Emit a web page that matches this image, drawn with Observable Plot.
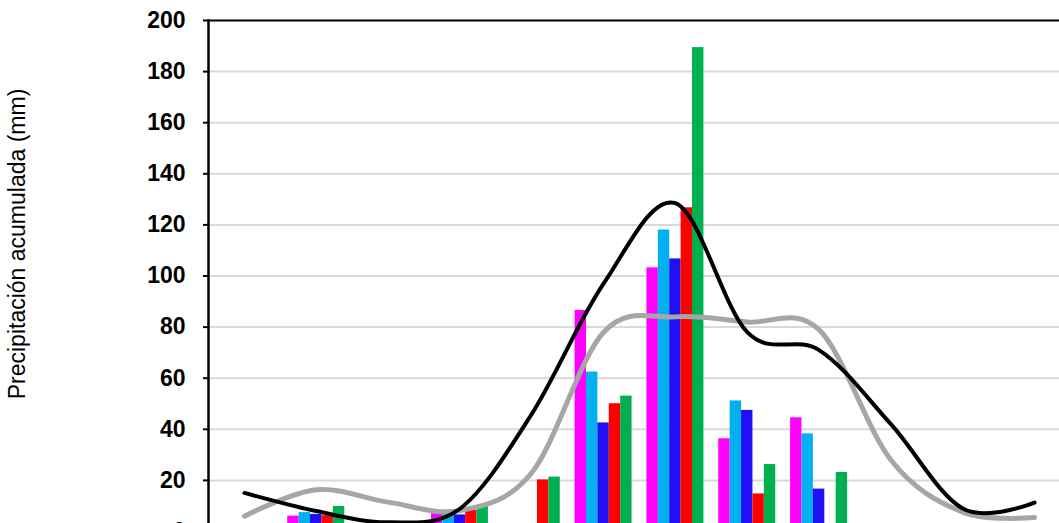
<!DOCTYPE html>
<html>
<head>
<meta charset="utf-8">
<script src="https://cdn.jsdelivr.net/npm/d3@7"></script>
<script src="https://cdn.jsdelivr.net/npm/@observablehq/plot@0.6"></script>
<style>
  html, body { margin: 0; padding: 0; background: #fff; overflow: hidden; width: 1059px; height: 523px; }
  #wrap { position: relative; width: 1059px; height: 523px; overflow: hidden; }
  #chart { position: absolute; left: 0; top: 0; width: 1080px; }
  #chart svg { max-width: none !important; }
  #ylabel {
    position: absolute; left: 17px; top: 244px;
    transform: translate(-50%, -50%) rotate(-90deg);
    font-family: "Liberation Sans", Arial, sans-serif; font-size: 23px; color: #000;
    white-space: nowrap;
  }
</style>
</head>
<body>
<div id="wrap">
  <div id="chart"></div>
  <div id="ylabel">Precipitación acumulada (mm)</div>
</div>
<script>
const months = ["Ene","Feb","Mar","Abr","May","Jun","Jul","Ago","Sep","Oct","Nov","Dic"];
const seriesNames = ["Serie 1","Serie 2","Serie 3","Serie 4","Serie 5"];
const seriesColors = ["#FF00FF","#00B0F0","#2010F5","#FF0000","#00B050"];
const serie1 = [0, 6.0, 0, 7.0, 0, 86.5, 103.2, 36.3, 44.5, 0, 0, 0];
const serie2 = [0, 7.4, 0, 7.0, 0, 62.4, 118.0, 51.1, 38.2, 0, 0, 0];
const serie3 = [0, 6.7, 0, 6.5, 0, 42.5, 106.7, 47.4, 16.6, 0, 0, 0];
const serie4 = [0, 6.2, 0, 8.2, 20.2, 50.0, 126.7, 14.7, 0, 0, 0, 0];
const serie5 = [0, 9.8, 0, 9.8, 21.3, 53.0, 189.4, 26.2, 23.1, 0, 0, 0];
const lineBlack = [15.1, 8.0, 3.6, 8.9, 46, 97, 128.5, 78, 71, 42, 9, 11.3];
const lineGray = [6, 16.3, 11.5, 8.2, 23, 78, 84, 82, 79, 28, 7.6, 5.5];
const yTicks = [0, 20, 40, 60, 80, 100, 120, 140, 160, 180, 200];

const allSeries = [serie1, serie2, serie3, serie4, serie5];

const W = 1080, H = 600;
const mLeft = 208, mRight = 10, mTop = 20, mBottom = 69;
const band = (W - mLeft - mRight) / months.length;
const groupW = 57;
const barW = groupW / allSeries.length;
const off = (band - groupW) / 2;

const barMarks = allSeries.map((vals, i) =>
  Plot.barY(months.map((m, j) => ({month: m, value: vals[j]})), {
    x: "month", y: "value", fill: seriesColors[i],
    insetLeft: off + i * barW,
    insetRight: band - off - (i + 1) * barW
  })
);

const chart = Plot.plot({
  width: W, height: H,
  marginLeft: mLeft, marginRight: mRight, marginTop: mTop, marginBottom: mBottom,
  style: {fontFamily: "'Liberation Sans', Arial, sans-serif", background: "#fff", maxWidth: "none"},
  x: {domain: months, padding: 0, round: false, axis: null},
  y: {domain: [0, 200], axis: null},
  marks: [
    Plot.gridY(yTicks.slice(1, -1), {stroke: "#D9D9D9", strokeOpacity: 1, strokeWidth: 2}),
    ...barMarks,
    Plot.line(months.map((m, j) => ({month: m, v: lineGray[j]})), {x: "month", y: "v", stroke: "#A6A6A6", strokeWidth: 5, curve: "cardinal", tension: 0}),
    Plot.line(months.map((m, j) => ({month: m, v: lineBlack[j]})), {x: "month", y: "v", stroke: "#000", strokeWidth: 4, curve: "cardinal", tension: 0}),
    Plot.axisY(yTicks, {tickSize: 5, tickPadding: 18, fontSize: 23, fontWeight: "bold", fill: "#000", stroke: "#000", strokeWidth: 2, label: null}),
    Plot.frame({anchor: "left", stroke: "#000", strokeWidth: 2.5}),
    Plot.frame({anchor: "top", stroke: "#000", strokeWidth: 2})
  ]
});
document.getElementById("chart").appendChild(chart);
</script>
</body>
</html>
